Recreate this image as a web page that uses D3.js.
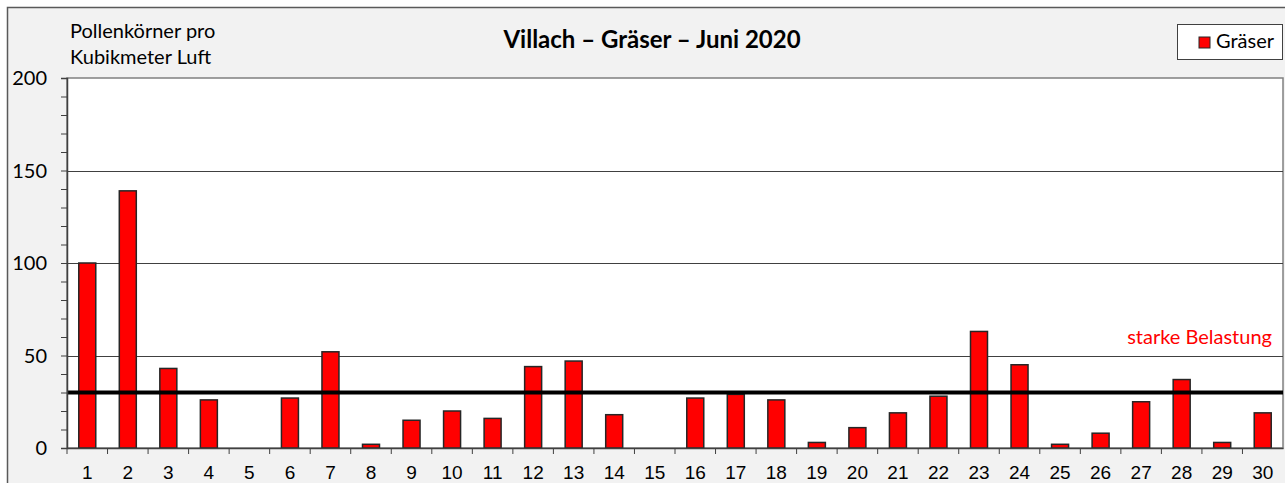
<!DOCTYPE html>
<html>
<head>
<meta charset="utf-8">
<script src="https://cdn.jsdelivr.net/npm/d3@7"></script>
<style>
  body { margin: 0; background: #ffffff; }
  svg { display: block; font-family: Lato, "Open Sans", sans-serif; }
</style>
</head>
<body>
<div class="chart"></div>
<script>
const days = d3.range(1, 31).map(String);
const pollen = [100, 139, 43, 26, 0, 27, 52, 2, 15, 20, 16, 44, 47, 18, 0,
  27, 29, 26, 3, 11, 19, 28, 63, 45, 2, 8, 25, 37, 3, 19];
const yTicks = [0, 50, 100, 150, 200];
const threshold = 30;

const width = 1285;
const height = 483;
const plotLeft = 67;
const plotRight = 1283;
const plotTop = 78;
const plotBottom = 448;

const svg = d3.select(".chart")
  .append("svg")
  .attr("width", width)
  .attr("height", height);

// chart area
svg.append("rect")
  .attr("x", 7.5).attr("y", 7.5)
  .attr("width", width + 10).attr("height", height + 10)
  .attr("fill", "#f2f2f2")
  .attr("stroke", "#595959")
  .attr("stroke-width", 1.5);

const x = d3.scaleBand()
  .domain(days)
  .range([plotLeft, plotRight]);

const y = d3.scaleLinear()
  .domain([0, 200])
  .range([plotBottom, plotTop]);

svg.append("rect")
  .attr("x", plotLeft).attr("y", plotTop)
  .attr("width", plotRight - plotLeft).attr("height", plotBottom - plotTop)
  .attr("fill", "#ffffff")
  .attr("stroke", "#808080")
  .attr("stroke-width", 1.5);

// gridlines
svg.append("g")
  .selectAll("line")
  .data(yTicks.filter(d => d > 0 && d < 200))
  .join("line")
  .attr("x1", plotLeft).attr("x2", plotRight)
  .attr("y1", d => Math.round(y(d)) + 0.5)
  .attr("y2", d => Math.round(y(d)) + 0.5)
  .attr("stroke", "#404040")
  .attr("stroke-width", 1);

// bars
svg.append("g")
  .selectAll("rect")
  .data(pollen)
  .join("rect")
  .attr("x", (d, i) => x(days[i]) + x.bandwidth() / 2 - 8.5)
  .attr("width", 17)
  .attr("y", d => y(d))
  .attr("height", d => plotBottom - y(d))
  .attr("fill", d => d > 0 ? "#ff0000" : "none")
  .attr("stroke", d => d > 0 ? "#262626" : "none")
  .attr("stroke-width", 1.5);

// threshold
svg.append("line")
  .attr("x1", plotLeft).attr("x2", plotRight)
  .attr("y1", y(threshold)).attr("y2", y(threshold))
  .attr("stroke", "#000000")
  .attr("stroke-width", 4);

svg.append("text")
  .attr("x", 1272).attr("y", 344)
  .attr("text-anchor", "end")
  .attr("fill", "#ff0000")
  .attr("font-size", 20)
  .text("starke Belastung");

// y axis
const yAxis = svg.append("g")
  .attr("transform", `translate(${plotLeft},0)`)
  .call(d3.axisLeft(y).tickValues(d3.range(0, 201, 10)).tickSize(6).tickFormat(""));
yAxis.select(".domain").attr("stroke", "#404040").attr("stroke-width", 1.5);
yAxis.selectAll(".tick line").attr("stroke", "#404040");

svg.append("g")
  .selectAll("text")
  .data(yTicks)
  .join("text")
  .attr("x", 47)
  .attr("y", d => y(d) + 7)
  .attr("text-anchor", "end")
  .attr("font-size", 20)
  .attr("fill", "#000")
  .text(d => d);

// x axis
const xAxis = svg.append("g")
  .attr("transform", `translate(0,${plotBottom})`)
  .call(d3.axisBottom(x).tickSize(0).tickPadding(18));
xAxis.select(".domain").attr("stroke", "#404040").attr("stroke-width", 1.5);
xAxis.selectAll(".tick text").attr("font-size", 19).attr("font-family", null).attr("fill", "#000");

svg.append("g")
  .selectAll("line")
  .data(days)
  .join("line")
  .attr("x1", d => x(d)).attr("x2", d => x(d))
  .attr("y1", plotBottom).attr("y2", plotBottom + 6)
  .attr("stroke", "#404040");

// titles
svg.append("text")
  .attr("x", 652).attr("y", 48)
  .attr("text-anchor", "middle")
  .attr("font-size", 24)
  .attr("font-weight", "bold")
  .text("Villach – Gräser – Juni 2020");

const yTitle = svg.append("text")
  .attr("x", 70).attr("y", 38)
  .attr("font-size", 20);
yTitle.append("tspan").attr("x", 70).text("Pollenkörner pro");
yTitle.append("tspan").attr("x", 70).attr("dy", 26).text("Kubikmeter Luft");

// legend
const legend = svg.append("g");
legend.append("rect")
  .attr("x", 1177.5).attr("y", 24.5)
  .attr("width", 105).attr("height", 35)
  .attr("fill", "#ffffff")
  .attr("stroke", "#404040");
legend.append("rect")
  .attr("x", 1199).attr("y", 37)
  .attr("width", 11).attr("height", 11)
  .attr("fill", "#ff0000")
  .attr("stroke", "#262626");
legend.append("text")
  .attr("x", 1216).attr("y", 48)
  .attr("font-size", 20)
  .text("Gräser");
</script>
</body>
</html>
